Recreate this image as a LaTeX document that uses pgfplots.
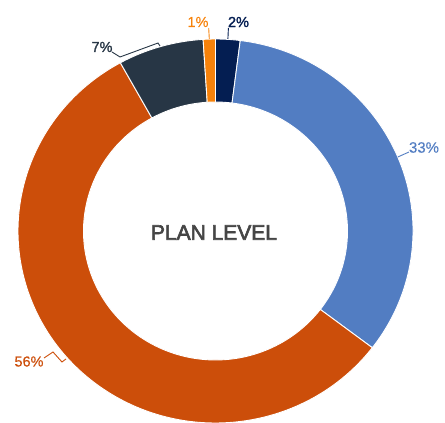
\documentclass[border=0pt]{standalone}
\usepackage{pgfplots}
\usepackage{pgfplotstable}
\pgfplotsset{compat=1.18}
\usepackage{fontspec}
\setmainfont{Liberation Sans}
\newfontfamily\titlefont[FakeBold=3]{Liberation Sans}
\newfontfamily\medfont[FakeBold=1.6]{Liberation Sans}
\newfontfamily\labfont[FakeBold=0.3]{Liberation Sans}

\definecolor{cNavy}{HTML}{041E52}
\definecolor{cBlue}{HTML}{527DC2}
\definecolor{cRust}{HTML}{CC4E0A}
\definecolor{cSlate}{HTML}{273645}
\definecolor{cAmber}{HTML}{F7820A}
\definecolor{cText}{HTML}{454545}

% shares in percent, clockwise from the top
\pgfplotstableread{
share colour
2.0  cNavy
33.4 cBlue
56.6 cRust
7.0  cSlate
1.0  cAmber
}\shares

\def\cx{215.5}\def\cy{-231}
\def\Rx{197.5}\def\Ry{192}
\def\rx{132}\def\ry{129}

\begin{document}
\begin{tikzpicture}
  \begin{axis}[
      x=1pt, y=1pt,
      xmin=0, xmax=445,
      ymin=-423, ymax=0,
      hide axis,
      clip=false,
    ]
    \pgfplotsextra{
      \pgfplotstablegetrowsof{\shares}
      \pgfmathtruncatemacro\nrows{\pgfplotsretval-1}
      \gdef\startang{90}
      \foreach \i in {0,...,\nrows}{
        \pgfplotstablegetelem{\i}{share}\of\shares
        \pgfmathsetmacro\endang{\startang-3.6*\pgfplotsretval}
        \pgfplotstablegetelem{\i}{colour}\of\shares
        \edef\col{\pgfplotsretval}
        \fill[\col, draw=white, line width=0.9pt]
          (axis cs:{\cx+\Rx*cos(\startang)},{\cy+\Ry*sin(\startang)})
          arc[start angle=\startang, end angle=\endang, x radius=\Rx pt, y radius=\Ry pt]
          -- (axis cs:{\cx+\rx*cos(\endang)},{\cy+\ry*sin(\endang)})
          arc[start angle=\endang, end angle=\startang, x radius=\rx pt, y radius=\ry pt]
          -- cycle;
        \xdef\startang{\endang}
      }
    }

    % centre title
    \node[text=cText, font=\titlefont\fontsize{21}{21}\selectfont, inner sep=0pt]
      at (axis cs:214,-232.5) {PLAN LEVEL};

    % labels with leader lines
    \begin{scope}[line width=0.9pt]
      \draw[cNavy] (axis cs:227.9,-39) -- (axis cs:228.4,-28);
      \node[text=cNavy, font=\medfont\fontsize{14.5}{14.5}\selectfont, inner sep=0pt]
        at (axis cs:238.5,-22) {2\%};

      \draw[cAmber] (axis cs:209.3,-39) -- (axis cs:208.7,-28);
      \node[text=cAmber, font=\labfont\fontsize{14.5}{14.5}\selectfont, inner sep=0pt]
        at (axis cs:198,-22) {1\%};

      \draw[cBlue] (axis cs:397.8,-157) -- (axis cs:409,-152);
      \node[text=cBlue, font=\labfont\fontsize{15}{15}\selectfont, inner sep=0pt]
        at (axis cs:424,-147.5) {33\%};

      \draw[cRust] (axis cs:66,-359) -- (axis cs:62,-362) -- (axis cs:53,-352) -- (axis cs:44,-358);
      \node[text=cRust, font=\labfont\fontsize{14.5}{14.5}\selectfont, inner sep=0pt]
        at (axis cs:29,-361.5) {56\%};

      \draw[cSlate] (axis cs:160,-46) -- (axis cs:158,-43) -- (axis cs:120,-57) -- (axis cs:112,-52);
      \node[text=cSlate, font=\medfont\fontsize{14.5}{14.5}\selectfont, inner sep=0pt]
        at (axis cs:102,-47) {7\%};
    \end{scope}
  \end{axis}
  \pgfresetboundingbox
  \path (0,0) rectangle (445pt,423pt);
\end{tikzpicture}
\end{document}
